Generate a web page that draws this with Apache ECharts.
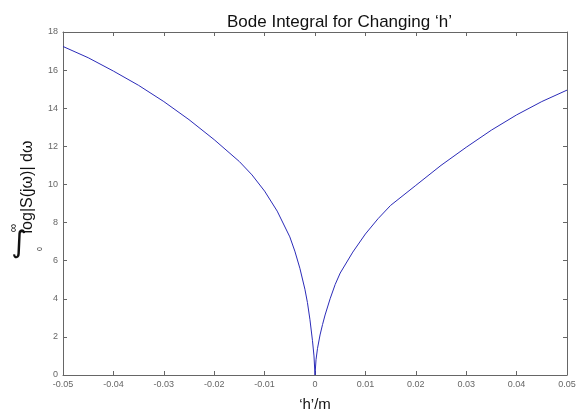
<!DOCTYPE html>
<html>
<head>
<meta charset="utf-8">
<script src="https://cdn.jsdelivr.net/npm/echarts@6/dist/echarts.min.js"></script>
<style>
  html, body { margin: 0; padding: 0; background: #fff; }
  #chart { width: 587px; height: 417px; }
</style>
</head>
<body>
<div id="chart"></div>
<script>
// values
const hValues = [
  -0.05, -0.045, -0.04, -0.035, -0.03, -0.025, -0.02, -0.015, -0.0125, -0.01,
  -0.0075, -0.005, -0.004, -0.003, -0.002, -0.0015, -0.001, -0.0005, -0.0002, 0,
  0.0002, 0.0005, 0.001, 0.0015, 0.002, 0.003, 0.004, 0.005, 0.0075, 0.01,
  0.0125, 0.015, 0.02, 0.025, 0.03, 0.035, 0.04, 0.045, 0.05
];
const integralValues = [
  17.24, 16.65, 15.95, 15.2, 14.35, 13.4, 12.35, 11.2, 10.5, 9.65,
  8.6, 7.25, 6.5, 5.6, 4.5, 3.8, 2.9, 1.8, 1.0, 0,
  0.8, 1.4, 2.1, 2.65, 3.15, 4.0, 4.75, 5.35, 6.45, 7.4,
  8.2, 8.9, 9.95, 11.0, 11.95, 12.85, 13.65, 14.35, 14.95
];
const xTicks = { min: -0.05, max: 0.05, step: 0.01 };
const yTicks = { min: 0, max: 18, step: 2 };

const tickFont = { fontSize: 9, color: '#666', fontFamily: 'Liberation Sans Narrow, Liberation Sans, Arial' };
const axisLine = { onZero: false, lineStyle: { color: '#666', width: 1 } };
const tick = { inside: true, length: 4, lineStyle: { color: '#666' } };

const chart = echarts.init(document.getElementById('chart'));
chart.setOption({
  backgroundColor: '#fff',
  animation: false,
  title: {
    text: 'Bode Integral for Changing \u2018h\u2019',
    left: 222, top: 9,
    textStyle: { fontSize: 17, fontWeight: 'normal', color: '#111', fontFamily: 'Liberation Sans, Arial' }
  },
  grid: { left: 63, right: 20, top: 32, bottom: 37 },
  xAxis: [{
    type: 'value', min: xTicks.min, max: xTicks.max, interval: xTicks.step,
    axisLine: axisLine, axisTick: tick, splitLine: { show: false },
    axisLabel: Object.assign({ margin: 5, formatter: v => String(Number(v.toFixed(2))) }, tickFont),
    name: '\u2018h\u2019/m', nameLocation: 'middle', nameGap: 22,
    nameTextStyle: { fontSize: 15, color: '#111', fontFamily: 'Liberation Sans, Arial' }
  }, {
    type: 'value', position: 'top', min: xTicks.min, max: xTicks.max, interval: xTicks.step,
    axisLine: axisLine, axisTick: tick, axisLabel: { show: false }, splitLine: { show: false }
  }],
  yAxis: [{
    type: 'value', min: yTicks.min, max: yTicks.max, interval: yTicks.step,
    axisLine: axisLine, axisTick: tick, splitLine: { show: false },
    axisLabel: Object.assign({ margin: 5 }, tickFont)
  }, {
    type: 'value', position: 'right', min: yTicks.min, max: yTicks.max, interval: yTicks.step,
    axisLine: axisLine, axisTick: tick, axisLabel: { show: false }, splitLine: { show: false }
  }],
  graphic: [
    { type: 'text', x: 28, y: 187, rotation: Math.PI / 2,
      style: { text: 'log|S(j\u03c9)| d\u03c9', fontSize: 16, fill: '#111', fontFamily: 'Liberation Sans, Arial', textAlign: 'center', textVerticalAlign: 'middle' } },
    { type: 'text', x: 19, y: 244,
      style: { text: '\u222b', fontSize: 30, fill: '#111', fontFamily: 'DejaVu Sans', textAlign: 'center', textVerticalAlign: 'middle' } },
    { type: 'text', x: 14, y: 228, rotation: Math.PI / 2,
      style: { text: '\u221e', fontSize: 12, fill: '#111', fontFamily: 'Liberation Sans, Arial', textAlign: 'center', textVerticalAlign: 'middle' } },
    { type: 'text', x: 40, y: 249, rotation: Math.PI / 2,
      style: { text: '0', fontSize: 7, fill: '#333', fontFamily: 'Liberation Sans, Arial', textAlign: 'center', textVerticalAlign: 'middle' } }
  ],
  series: [{
    type: 'line',
    data: hValues.map((h, i) => [h, integralValues[i]]),
    showSymbol: false,
    smooth: false,
    lineStyle: { color: '#2b2bb8', width: 1 }
  }]
});
</script>
</body>
</html>
